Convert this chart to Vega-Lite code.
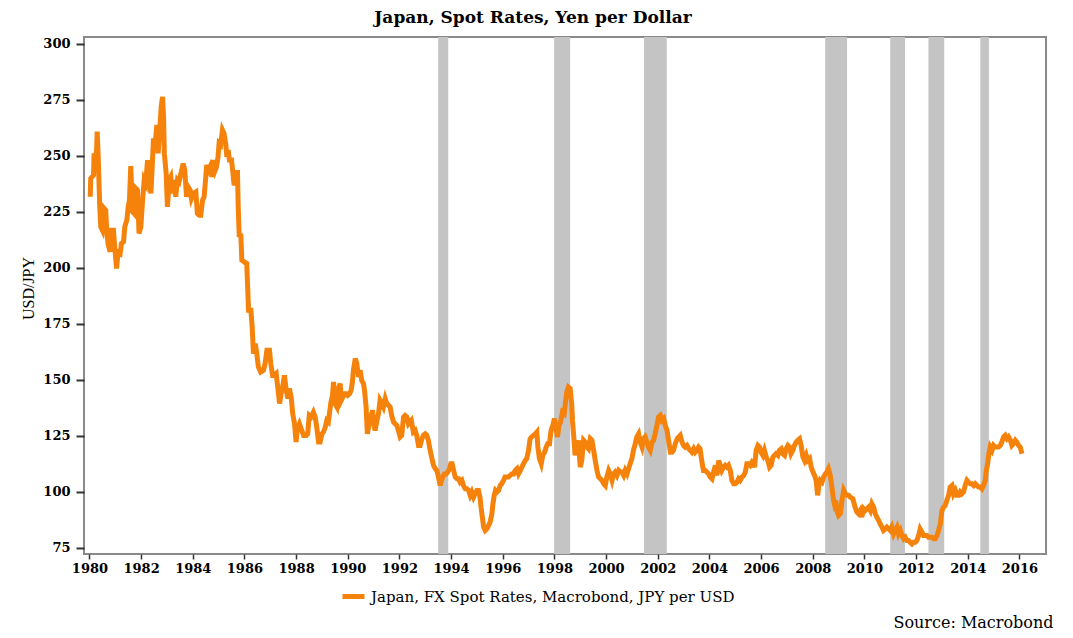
{
  "$schema": "https://vega.github.io/schema/vega-lite/v6.json",
  "autosize": {"type": "none"},
  "width": 962,
  "height": 517,
  "padding": {"left": 84, "top": 37, "right": 27, "bottom": 84},
  "background": "white",
  "title": {"text": "Japan, Spot Rates, Yen per Dollar", "font": "DejaVu Serif", "fontSize": 17, "fontWeight": "bold", "color": "#000", "anchor": "middle", "dx": -32, "offset": 10},
  "datasets": {
    "rec": [
      {"start": 1993.50, "end": 1993.89},
      {"start": 1997.99, "end": 1998.61},
      {"start": 2001.47, "end": 2002.35},
      {"start": 2008.48, "end": 2009.33},
      {"start": 2011.00, "end": 2011.57},
      {"start": 2012.48, "end": 2013.09},
      {"start": 2014.49, "end": 2014.82}
    ],
    "fx": [
      {"t":1980.03,"v":231.7},{"t":1980.05,"v":239.9},{"t":1980.16,"v":241.4},{"t":1980.18,"v":251.1},{"t":1980.25,"v":243.6},{"t":1980.30,"v":260.8},{"t":1980.34,"v":249.6},{"t":1980.40,"v":227.2},{"t":1980.44,"v":218.3},{"t":1980.50,"v":216.8},{"t":1980.57,"v":226.5},{"t":1980.63,"v":225.7},{"t":1980.67,"v":216.8},{"t":1980.72,"v":210.8},{"t":1980.80,"v":207.1},{"t":1980.85,"v":216.8},{"t":1980.93,"v":216.8},{"t":1980.98,"v":209.3},{"t":1981.05,"v":199.6},{"t":1981.11,"v":207.1},{"t":1981.19,"v":206.4},{"t":1981.24,"v":210.8},{"t":1981.32,"v":211.6},{"t":1981.37,"v":218.3},{"t":1981.45,"v":221.3},{"t":1981.50,"v":227.2},{"t":1981.55,"v":230.2},{"t":1981.60,"v":245.4},{"t":1981.67,"v":225.0},{"t":1981.73,"v":224.2},{"t":1981.80,"v":235.4},{"t":1981.86,"v":234.7},{"t":1981.92,"v":215.3},{"t":1981.99,"v":218.3},{"t":1982.05,"v":228.7},{"t":1982.12,"v":239.2},{"t":1982.18,"v":237.7},{"t":1982.25,"v":248.1},{"t":1982.31,"v":240.6},{"t":1982.38,"v":233.2},{"t":1982.44,"v":247.4},{"t":1982.48,"v":257.8},{"t":1982.54,"v":254.1},{"t":1982.61,"v":263.8},{"t":1982.66,"v":251.1},{"t":1982.73,"v":263.0},{"t":1982.78,"v":272.0},{"t":1982.83,"v":276.4},{"t":1982.87,"v":267.5},{"t":1982.90,"v":251.1},{"t":1982.97,"v":242.1},{"t":1983.02,"v":227.2},{"t":1983.09,"v":239.2},{"t":1983.15,"v":240.6},{"t":1983.21,"v":233.2},{"t":1983.28,"v":239.2},{"t":1983.34,"v":231.7},{"t":1983.41,"v":239.2},{"t":1983.47,"v":238.4},{"t":1983.54,"v":242.1},{"t":1983.63,"v":246.6},{"t":1983.69,"v":243.6},{"t":1983.76,"v":231.7},{"t":1983.82,"v":236.2},{"t":1983.90,"v":234.7},{"t":1983.95,"v":230.9},{"t":1984.03,"v":233.2},{"t":1984.12,"v":233.9},{"t":1984.18,"v":224.2},{"t":1984.25,"v":223.5},{"t":1984.31,"v":223.5},{"t":1984.38,"v":230.2},{"t":1984.44,"v":231.7},{"t":1984.50,"v":239.9},{"t":1984.54,"v":245.9},{"t":1984.61,"v":243.6},{"t":1984.67,"v":245.1},{"t":1984.74,"v":240.6},{"t":1984.80,"v":248.1},{"t":1984.87,"v":243.6},{"t":1984.92,"v":245.1},{"t":1984.98,"v":249.6},{"t":1985.02,"v":255.6},{"t":1985.08,"v":254.9},{"t":1985.15,"v":261.5},{"t":1985.21,"v":260.0},{"t":1985.28,"v":254.9},{"t":1985.32,"v":249.6},{"t":1985.37,"v":252.6},{"t":1985.42,"v":248.1},{"t":1985.50,"v":248.1},{"t":1985.55,"v":242.9},{"t":1985.60,"v":236.9},{"t":1985.67,"v":239.2},{"t":1985.73,"v":243.6},{"t":1985.76,"v":227.2},{"t":1985.80,"v":213.8},{"t":1985.86,"v":215.3},
      {"t":1985.90,"v":203.4},{"t":1985.99,"v":202.6},{"t":1986.09,"v":201.9},{"t":1986.16,"v":181.0},{"t":1986.25,"v":181.0},{"t":1986.30,"v":173.6},{"t":1986.35,"v":161.6},{"t":1986.42,"v":166.1},{"t":1986.48,"v":161.6},{"t":1986.54,"v":155.7},{"t":1986.63,"v":153.4},{"t":1986.74,"v":154.2},{"t":1986.80,"v":157.2},{"t":1986.87,"v":163.1},{"t":1986.97,"v":163.1},{"t":1987.02,"v":157.2},{"t":1987.09,"v":151.9},{"t":1987.16,"v":151.9},{"t":1987.23,"v":152.7},{"t":1987.29,"v":146.7},{"t":1987.36,"v":139.3},{"t":1987.42,"v":143.7},{"t":1987.48,"v":146.7},{"t":1987.55,"v":151.9},{"t":1987.61,"v":146.0},{"t":1987.68,"v":141.5},{"t":1987.74,"v":146.0},{"t":1987.81,"v":142.2},{"t":1987.87,"v":134.8},{"t":1987.94,"v":130.3},{"t":1988.00,"v":122.1},{"t":1988.05,"v":128.1},{"t":1988.13,"v":130.3},{"t":1988.22,"v":127.3},{"t":1988.29,"v":125.1},{"t":1988.39,"v":125.1},{"t":1988.45,"v":125.8},{"t":1988.51,"v":134.0},{"t":1988.58,"v":133.3},{"t":1988.67,"v":135.5},{"t":1988.74,"v":133.3},{"t":1988.80,"v":128.8},{"t":1988.87,"v":122.1},{"t":1988.93,"v":122.1},{"t":1989.00,"v":125.8},{"t":1989.06,"v":126.6},{"t":1989.13,"v":128.8},{"t":1989.19,"v":131.8},{"t":1989.25,"v":131.1},{"t":1989.34,"v":139.3},{"t":1989.41,"v":143.0},{"t":1989.45,"v":149.0},{"t":1989.51,"v":139.3},{"t":1989.58,"v":137.8},{"t":1989.66,"v":146.7},{"t":1989.71,"v":148.2},{"t":1989.75,"v":140.8},{"t":1989.81,"v":142.2},{"t":1989.87,"v":143.7},{"t":1989.94,"v":143.7},{"t":1990.00,"v":143.0},{"t":1990.07,"v":143.7},{"t":1990.13,"v":145.2},{"t":1990.18,"v":149.0},{"t":1990.22,"v":154.2},{"t":1990.29,"v":159.4},{"t":1990.35,"v":157.2},{"t":1990.42,"v":151.2},{"t":1990.48,"v":154.2},{"t":1990.54,"v":149.7},{"t":1990.61,"v":148.2},{"t":1990.65,"v":145.2},{"t":1990.71,"v":137.8},{"t":1990.76,"v":125.8},{"t":1990.83,"v":130.3},{"t":1990.89,"v":133.3},{"t":1990.96,"v":136.3},{"t":1991.00,"v":130.3},{"t":1991.06,"v":127.3},{"t":1991.13,"v":131.8},{"t":1991.19,"v":134.8},{"t":1991.25,"v":140.8},{"t":1991.32,"v":139.3},{"t":1991.38,"v":137.8},{"t":1991.45,"v":141.5},{"t":1991.51,"v":139.3},{"t":1991.58,"v":138.5},{"t":1991.64,"v":137.8},{"t":1991.70,"v":134.0},{"t":1991.77,"v":131.1},{"t":1991.83,"v":130.3},{"t":1991.90,"v":129.6},{"t":1991.96,"v":127.3},{"t":1992.03,"v":124.4},{"t":1992.09,"v":125.1},{"t":1992.16,"v":133.3},{"t":1992.22,"v":134.0},{"t":1992.29,"v":133.3},{"t":1992.35,"v":130.3},
      {"t":1992.46,"v":131.8},{"t":1992.54,"v":126.6},{"t":1992.61,"v":127.3},{"t":1992.67,"v":125.1},{"t":1992.74,"v":120.6},{"t":1992.80,"v":120.6},{"t":1992.87,"v":123.6},{"t":1992.93,"v":125.1},{"t":1993.00,"v":125.8},{"t":1993.06,"v":125.1},{"t":1993.12,"v":122.9},{"t":1993.19,"v":118.4},{"t":1993.26,"v":114.7},{"t":1993.32,"v":111.7},{"t":1993.39,"v":110.2},{"t":1993.45,"v":109.4},{"t":1993.51,"v":106.5},{"t":1993.58,"v":102.7},{"t":1993.61,"v":104.2},{"t":1993.68,"v":106.5},{"t":1993.74,"v":107.9},{"t":1993.81,"v":107.9},{"t":1993.87,"v":108.7},{"t":1993.94,"v":110.2},{"t":1993.99,"v":112.4},{"t":1994.04,"v":112.4},{"t":1994.10,"v":109.4},{"t":1994.16,"v":106.5},{"t":1994.23,"v":105.7},{"t":1994.29,"v":105.7},{"t":1994.35,"v":104.2},{"t":1994.42,"v":105.0},{"t":1994.48,"v":102.7},{"t":1994.55,"v":101.2},{"t":1994.61,"v":101.2},{"t":1994.68,"v":100.5},{"t":1994.74,"v":98.3},{"t":1994.80,"v":99.8},{"t":1994.87,"v":97.5},{"t":1994.93,"v":99.0},{"t":1995.00,"v":100.5},{"t":1995.06,"v":100.5},{"t":1995.12,"v":97.5},{"t":1995.16,"v":93.0},{"t":1995.21,"v":88.6},{"t":1995.26,"v":84.1},{"t":1995.32,"v":82.6},{"t":1995.38,"v":83.3},{"t":1995.45,"v":84.8},{"t":1995.51,"v":86.3},{"t":1995.58,"v":90.1},{"t":1995.62,"v":94.5},{"t":1995.67,"v":98.3},{"t":1995.72,"v":100.5},{"t":1995.78,"v":99.8},{"t":1995.84,"v":100.5},{"t":1995.90,"v":102.7},{"t":1995.96,"v":103.5},{"t":1996.03,"v":105.0},{"t":1996.09,"v":106.5},{"t":1996.16,"v":106.5},{"t":1996.22,"v":106.5},{"t":1996.29,"v":107.2},{"t":1996.35,"v":107.9},{"t":1996.42,"v":107.9},{"t":1996.48,"v":109.4},{"t":1996.55,"v":110.2},{"t":1996.61,"v":107.9},{"t":1996.68,"v":109.4},{"t":1996.74,"v":110.9},{"t":1996.80,"v":112.4},{"t":1996.87,"v":113.9},{"t":1996.93,"v":114.7},{"t":1997.00,"v":118.4},{"t":1997.06,"v":123.6},{"t":1997.12,"v":124.4},{"t":1997.19,"v":125.1},{"t":1997.26,"v":125.8},{"t":1997.32,"v":126.6},{"t":1997.36,"v":119.9},{"t":1997.42,"v":114.7},{"t":1997.49,"v":112.4},{"t":1997.55,"v":116.2},{"t":1997.62,"v":117.6},{"t":1997.68,"v":119.9},{"t":1997.74,"v":121.4},{"t":1997.81,"v":121.4},{"t":1997.87,"v":127.3},{"t":1997.94,"v":129.6},{"t":1998.00,"v":132.6},{"t":1998.05,"v":128.8},{"t":1998.12,"v":124.4},{"t":1998.18,"v":129.6},{"t":1998.24,"v":131.1},{"t":1998.31,"v":135.5},{"t":1998.38,"v":134.8},{"t":1998.43,"v":140.0},{"t":1998.48,"v":144.5},{"t":1998.54,"v":146.7},{"t":1998.61,"v":146.0},{"t":1998.67,"v":139.3},{"t":1998.70,"v":131.8},{"t":1998.75,"v":124.4},{"t":1998.80,"v":116.2},{"t":1998.87,"v":119.9},{"t":1998.93,"v":122.9},{"t":1999.00,"v":110.9},{"t":1999.06,"v":113.9},{"t":1999.13,"v":122.9},{"t":1999.19,"v":122.1},{"t":1999.26,"v":119.9},{"t":1999.32,"v":119.1},{"t":1999.39,"v":123.6},{"t":1999.45,"v":122.9},{"t":1999.52,"v":118.4},{"t":1999.58,"v":113.9},{"t":1999.65,"v":109.4},{"t":1999.71,"v":106.5},{"t":1999.78,"v":105.7},{"t":1999.84,"v":105.0},{"t":1999.91,"v":103.5},{"t":1999.97,"v":102.7},{"t":2000.03,"v":106.5},{"t":2000.10,"v":109.4},{"t":2000.16,"v":107.9},{"t":2000.23,"v":105.0},{"t":2000.29,"v":107.9},{"t":2000.35,"v":108.7},{"t":2000.42,"v":107.2},{"t":2000.49,"v":109.4},{"t":2000.55,"v":108.7},{"t":2000.61,"v":108.7},{"t":2000.68,"v":107.2},{"t":2000.74,"v":109.4},{"t":2000.81,"v":107.9},{"t":2000.87,"v":110.2},
      {"t":2001.00,"v":114.7},{"t":2001.06,"v":118.4},{"t":2001.13,"v":121.4},{"t":2001.19,"v":124.4},{"t":2001.26,"v":125.8},{"t":2001.32,"v":122.1},{"t":2001.39,"v":119.9},{"t":2001.45,"v":123.6},{"t":2001.51,"v":124.4},{"t":2001.58,"v":122.1},{"t":2001.64,"v":119.9},{"t":2001.71,"v":118.4},{"t":2001.78,"v":122.1},{"t":2001.84,"v":122.9},{"t":2001.90,"v":125.8},{"t":2001.97,"v":129.6},{"t":2002.03,"v":133.3},{"t":2002.10,"v":134.0},{"t":2002.16,"v":131.8},{"t":2002.23,"v":132.6},{"t":2002.29,"v":129.6},{"t":2002.36,"v":127.3},{"t":2002.42,"v":122.9},{"t":2002.49,"v":117.6},{"t":2002.55,"v":117.6},{"t":2002.61,"v":118.4},{"t":2002.68,"v":121.4},{"t":2002.75,"v":123.6},{"t":2002.81,"v":124.4},{"t":2002.87,"v":125.1},{"t":2002.94,"v":122.1},{"t":2003.00,"v":120.6},{"t":2003.06,"v":119.9},{"t":2003.13,"v":120.6},{"t":2003.20,"v":119.1},{"t":2003.26,"v":118.4},{"t":2003.32,"v":117.6},{"t":2003.39,"v":119.1},{"t":2003.45,"v":117.6},{"t":2003.51,"v":118.4},{"t":2003.58,"v":119.9},{"t":2003.64,"v":119.1},{"t":2003.71,"v":113.2},{"t":2003.77,"v":109.4},{"t":2003.84,"v":109.4},{"t":2003.90,"v":108.7},{"t":2003.97,"v":107.9},{"t":2004.03,"v":106.5},{"t":2004.10,"v":105.7},{"t":2004.16,"v":108.7},{"t":2004.23,"v":111.7},{"t":2004.29,"v":107.2},{"t":2004.36,"v":113.9},{"t":2004.42,"v":111.7},{"t":2004.48,"v":109.4},{"t":2004.55,"v":110.9},{"t":2004.61,"v":111.7},{"t":2004.68,"v":110.9},{"t":2004.74,"v":111.7},{"t":2004.81,"v":109.4},{"t":2004.87,"v":105.0},{"t":2004.94,"v":103.5},{"t":2005.00,"v":103.5},{"t":2005.07,"v":104.2},{"t":2005.13,"v":105.7},{"t":2005.19,"v":105.0},{"t":2005.26,"v":106.5},{"t":2005.33,"v":107.2},{"t":2005.39,"v":108.7},{"t":2005.45,"v":112.4},{"t":2005.52,"v":112.4},{"t":2005.58,"v":111.7},{"t":2005.65,"v":113.2},{"t":2005.71,"v":112.4},{"t":2005.75,"v":110.9},{"t":2005.81,"v":118.4},{"t":2005.88,"v":120.6},{"t":2005.94,"v":119.9},{"t":2006.00,"v":117.6},{"t":2006.07,"v":116.2},{"t":2006.13,"v":118.4},{"t":2006.20,"v":115.4},{"t":2006.26,"v":113.9},{"t":2006.33,"v":110.9},{"t":2006.39,"v":111.7},{"t":2006.46,"v":115.4},{"t":2006.52,"v":116.2},{"t":2006.58,"v":116.9},{"t":2006.65,"v":116.2},{"t":2006.71,"v":118.4},{"t":2006.78,"v":119.1},{"t":2006.84,"v":116.9},{"t":2006.91,"v":116.2},{"t":2006.97,"v":119.1},{"t":2007.04,"v":120.6},{"t":2007.10,"v":119.9},{"t":2007.16,"v":116.9},{"t":2007.23,"v":118.4},{"t":2007.29,"v":120.6},{"t":2007.36,"v":122.1},{"t":2007.42,"v":122.9},{"t":2007.49,"v":123.6},{"t":2007.55,"v":120.6},{"t":2007.62,"v":115.4},{"t":2007.68,"v":113.9},{"t":2007.75,"v":116.2},{"t":2007.81,"v":113.9},{"t":2007.88,"v":114.7},{"t":2007.94,"v":110.9},{"t":2008.01,"v":108.7},{"t":2008.07,"v":107.2},{"t":2008.13,"v":105.0},{"t":2008.19,"v":98.3},{"t":2008.24,"v":102.7},{"t":2008.29,"v":105.0},{"t":2008.36,"v":104.2},{"t":2008.42,"v":106.5},{"t":2008.49,"v":107.9},{"t":2008.55,"v":108.7},{"t":2008.61,"v":110.2},{"t":2008.68,"v":107.2},{"t":2008.74,"v":102.0},{"t":2008.81,"v":96.0},{"t":2008.84,"v":94.5},{"t":2008.89,"v":96.0},{"t":2008.95,"v":90.8},{"t":2009.00,"v":89.3},{"t":2009.07,"v":90.1},{"t":2009.13,"v":96.0},{"t":2009.20,"v":100.5},{"t":2009.26,"v":99.0},{"t":2009.33,"v":98.3},{"t":2009.39,"v":98.3},
      {"t":2009.45,"v":97.5},{"t":2009.55,"v":96.8},{"t":2009.64,"v":93.0},{"t":2009.71,"v":90.8},{"t":2009.77,"v":90.1},{"t":2009.84,"v":91.5},{"t":2009.90,"v":88.6},{"t":2009.97,"v":92.3},{"t":2010.03,"v":91.5},{"t":2010.10,"v":92.3},{"t":2010.16,"v":93.0},{"t":2010.23,"v":91.5},{"t":2010.29,"v":94.5},{"t":2010.36,"v":93.0},{"t":2010.42,"v":90.1},{"t":2010.48,"v":88.6},{"t":2010.55,"v":87.1},{"t":2010.61,"v":85.6},{"t":2010.68,"v":84.1},{"t":2010.74,"v":82.6},{"t":2010.81,"v":83.3},{"t":2010.87,"v":84.1},{"t":2010.94,"v":83.3},{"t":2011.00,"v":82.6},{"t":2011.06,"v":84.1},{"t":2011.13,"v":81.1},{"t":2011.19,"v":82.6},{"t":2011.26,"v":84.1},{"t":2011.32,"v":81.1},{"t":2011.39,"v":82.6},{"t":2011.45,"v":80.4},{"t":2011.52,"v":78.9},{"t":2011.58,"v":79.6},{"t":2011.65,"v":78.1},{"t":2011.71,"v":78.1},{"t":2011.77,"v":77.4},{"t":2011.84,"v":76.6},{"t":2011.90,"v":77.4},{"t":2011.97,"v":77.4},{"t":2012.03,"v":78.1},{"t":2012.10,"v":80.4},{"t":2012.16,"v":83.3},{"t":2012.23,"v":81.9},{"t":2012.29,"v":80.4},{"t":2012.35,"v":80.4},{"t":2012.42,"v":80.4},{"t":2012.48,"v":79.6},{"t":2012.55,"v":79.6},{"t":2012.61,"v":79.6},{"t":2012.68,"v":78.9},{"t":2012.74,"v":78.9},{"t":2012.81,"v":80.4},{"t":2012.87,"v":82.6},{"t":2012.94,"v":85.6},{"t":2013.00,"v":91.5},{"t":2013.06,"v":93.0},{"t":2013.13,"v":93.8},{"t":2013.19,"v":96.0},{"t":2013.26,"v":98.3},{"t":2013.32,"v":102.0},{"t":2013.39,"v":102.7},{"t":2013.45,"v":99.0},{"t":2013.52,"v":100.5},{"t":2013.58,"v":98.3},{"t":2013.65,"v":98.3},{"t":2013.71,"v":99.8},{"t":2013.77,"v":99.0},{"t":2013.84,"v":99.8},{"t":2013.90,"v":102.7},{"t":2013.97,"v":105.0},{"t":2014.03,"v":104.2},{"t":2014.10,"v":103.5},{"t":2014.16,"v":103.5},{"t":2014.23,"v":102.7},{"t":2014.29,"v":103.5},{"t":2014.36,"v":102.7},{"t":2014.42,"v":102.0},{"t":2014.48,"v":102.0},{"t":2014.55,"v":101.2},{"t":2014.61,"v":102.7},{"t":2014.68,"v":105.0},{"t":2014.71,"v":108.7},{"t":2014.77,"v":112.4},{"t":2014.82,"v":116.9},{"t":2014.87,"v":119.9},{"t":2014.94,"v":118.4},{"t":2015.00,"v":120.6},{"t":2015.06,"v":119.9},{"t":2015.13,"v":119.9},{"t":2015.19,"v":119.9},{"t":2015.26,"v":120.6},{"t":2015.32,"v":122.1},{"t":2015.39,"v":124.4},{"t":2015.45,"v":125.1},{"t":2015.52,"v":123.6},{"t":2015.58,"v":124.4},{"t":2015.65,"v":122.9},{"t":2015.71,"v":120.6},{"t":2015.77,"v":121.4},{"t":2015.84,"v":122.9},{"t":2015.90,"v":122.1},{"t":2015.97,"v":120.6},{"t":2016.03,"v":119.9},{"t":2016.10,"v":116.9}
    ]
  },
  "layer": [
    {
      "data": {"name": "rec"},
      "mark": {"type": "rect", "color": "#c4c4c4"},
      "encoding": {
        "x": {"field": "start", "type": "quantitative", "title": "Source: Macrobond", "scale": {"domain": [1979.79, 2017.03], "nice": false, "zero": false}},
        "x2": {"field": "end"}
      }
    },
    {
      "mark": {"type": "rule", "color": "#000000", "strokeWidth": 1.5},
      "encoding": {"y": {"datum": 100}}
    },
    {
      "data": {"name": "fx"},
      "mark": {"type": "line", "strokeWidth": 5, "strokeJoin": "miter"},
      "encoding": {
        "x": {
          "field": "t", "type": "quantitative", "title": "Source: Macrobond",
          "scale": {"domain": [1979.79, 2017.03], "nice": false, "zero": false},
          "axis": {
            "values": [1980,1982,1984,1986,1988,1990,1992,1994,1996,1998,2000,2002,2004,2006,2008,2010,2012,2014,2016],
            "format": "d", "grid": false, "domain": false,
            "labelFont": "DejaVu Serif", "labelFontWeight": "bold", "labelFontSize": 13, "labelColor": "#000",
            "labelPadding": 3, "tickSize": 5, "tickWidth": 1.5, "tickColor": "#333",
            "titleFont": "DejaVu Serif", "titleFontWeight": "normal", "titleFontSize": 16, "titleColor": "#000",
            "titleAnchor": "end", "titleAlign": "right", "titleBaseline": "alphabetic", "titleX": 969, "titleY": 73
          }
        },
        "y": {
          "field": "v", "type": "quantitative", "title": "USD/JPY",
          "scale": {"domain": [72.1, 303.1], "nice": false, "zero": false},
          "axis": {
            "values": [75,100,125,150,175,200,225,250,275,300],
            "grid": false, "domain": false,
            "labelFont": "DejaVu Serif", "labelFontWeight": "bold", "labelFontSize": 13, "labelColor": "#000",
            "labelPadding": 6, "tickSize": 8, "tickWidth": 2, "tickColor": "#333",
            "titleFont": "Liberation Serif", "titleFontWeight": "normal", "titleFontSize": 16, "titleColor": "#000",
            "titlePadding": 6, "titleY": 251
          }
        },
        "color": {
          "datum": "Japan, FX Spot Rates, Macrobond, JPY per USD",
          "scale": {"range": ["#f5820a"]},
          "legend": {
            "title": null, "orient": "none", "legendX": 256, "legendY": 546, "direction": "horizontal",
            "symbolType": "stroke", "symbolStrokeWidth": 5, "symbolSize": 484,
            "labelFont": "DejaVu Serif", "labelFontSize": 15, "labelColor": "#000", "labelOffset": 4, "labelLimit": 0
          }
        }
      }
    }
  ],
  "config": {
    "view": {"stroke": "#8a8a8a", "strokeWidth": 2}
  }
}
